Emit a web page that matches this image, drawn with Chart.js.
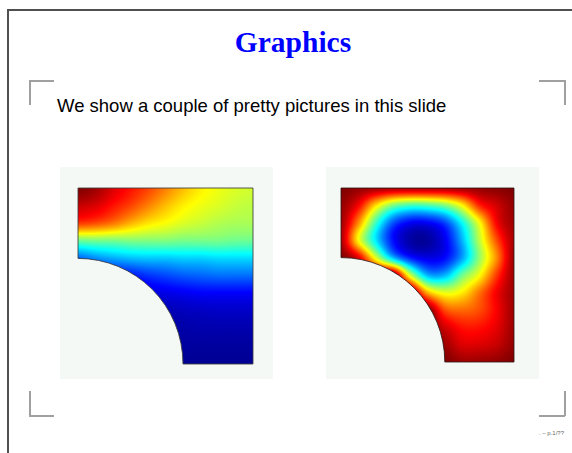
<!DOCTYPE html>
<html>
<head>
<meta charset="utf-8">
<script src="https://cdn.jsdelivr.net/npm/chart.js@4.4.1/dist/chart.umd.min.js"></script>
<style>
  html, body { margin: 0; padding: 0; background: #ffffff; }
  #slide { position: relative; width: 572px; height: 453px; overflow: hidden; background: #ffffff; }
  .edge { position: absolute; background: #505050; }
  .mark { position: absolute; background: #a0a0a0; }
  #title { position: absolute; left: 143px; top: 28px; width: 300px; text-align: center;
           font: bold 29.5px "Liberation Serif", "Times New Roman", serif; line-height: 29.5px; color: #0000ff; white-space: nowrap; }
  #lead { position: absolute; left: 57px; top: 97px; font: 18.5px "Liberation Sans", Arial, sans-serif;
          line-height: 18.5px; color: #000000; white-space: nowrap; }
  #foot { position: absolute; left: 539px; top: 430px; font: 6px "Liberation Sans", Arial, sans-serif;
          line-height: 6px; color: #666666; white-space: nowrap; }
  .panel { position: absolute; background: #f5f9f5; }
</style>
</head>
<body>
<div id="slide">
  <div class="edge" style="left:7px; top:9px; width:565px; height:2px;"></div>
  <div class="edge" style="left:7px; top:9px; width:2px; height:444px;"></div>

  <div class="mark" style="left:29px; top:80px; width:25px; height:1.5px;"></div>
  <div class="mark" style="left:29px; top:80px; width:1.5px; height:25px;"></div>
  <div class="mark" style="left:539px; top:80px; width:26px; height:1.5px;"></div>
  <div class="mark" style="left:564px; top:80px; width:1.5px; height:25px;"></div>
  <div class="mark" style="left:29px; top:391px; width:1.5px; height:25px;"></div>
  <div class="mark" style="left:29px; top:415px; width:25px; height:1.5px;"></div>
  <div class="mark" style="left:564px; top:391px; width:1.5px; height:25px;"></div>
  <div class="mark" style="left:539px; top:415px; width:26px; height:1.5px;"></div>

  <div id="title">Graphics</div>
  <div id="lead">We show a couple of pretty pictures in this slide</div>
  <div id="foot">. – p.1/??</div>

  <canvas id="leftField" class="panel" width="213" height="212" style="left:60px; top:167px;"></canvas>
  <canvas id="rightField" class="panel" width="213" height="212" style="left:326px; top:167px;"></canvas>
</div>

<script>
// Grid node positions of the sampled fields (x left to right, y rows from top to bottom)
const X_NODES = [0.0, 0.1, 0.2, 0.3, 0.4, 0.5, 0.6, 0.7, 0.8, 0.9, 1.0];
const Y_NODES = [1.0, 0.9, 0.8, 0.7, 0.6, 0.5, 0.4, 0.3, 0.2, 0.1, 0.0];

// Radius of the quarter-circle cut out of the unit square at the origin
const HOLE_RADIUS = 0.6;

// First solution: normalised values on the grid (0 = lowest, 1 = highest)
const LEFT_FIELD = [
  [1.00, 0.97, 0.91, 0.86, 0.81, 0.75, 0.69, 0.64, 0.61, 0.59, 0.58],
  [0.93, 0.91, 0.86, 0.81, 0.75, 0.69, 0.64, 0.61, 0.59, 0.57, 0.56],
  [0.82, 0.80, 0.76, 0.70, 0.65, 0.62, 0.59, 0.57, 0.55, 0.54, 0.54],
  [0.48, 0.49, 0.49, 0.50, 0.50, 0.50, 0.49, 0.49, 0.49, 0.48, 0.48],
  [0.22, 0.26, 0.29, 0.31, 0.32, 0.32, 0.33, 0.33, 0.34, 0.34, 0.34],
  [0.10, 0.11, 0.12, 0.14, 0.17, 0.19, 0.21, 0.22, 0.23, 0.23, 0.23],
  [0.06, 0.06, 0.07, 0.08, 0.09, 0.10, 0.11, 0.12, 0.12, 0.12, 0.12],
  [0.04, 0.04, 0.04, 0.04, 0.05, 0.05, 0.06, 0.065, 0.07, 0.07, 0.07],
  [0.03, 0.03, 0.03, 0.03, 0.03, 0.035, 0.04, 0.045, 0.045, 0.045, 0.045],
  [0.02, 0.02, 0.02, 0.02, 0.02, 0.025, 0.03, 0.03, 0.03, 0.03, 0.03],
  [0.02, 0.02, 0.02, 0.02, 0.02, 0.02, 0.02, 0.02, 0.02, 0.02, 0.02]
];

// Second solution: high on the boundary, a single low well inside
const RIGHT_FIELD = [
  [1.00, 0.98, 0.97, 0.96, 0.96, 0.96, 0.96, 0.97, 0.98, 0.99, 1.00],
  [0.98, 0.88, 0.66, 0.50, 0.44, 0.45, 0.50, 0.63, 0.84, 0.92, 0.98],
  [0.97, 0.74, 0.44, 0.21, 0.12, 0.12, 0.19, 0.38, 0.62, 0.88, 0.97],
  [0.96, 0.63, 0.36, 0.14, 0.04, 0.03, 0.11, 0.30, 0.56, 0.80, 0.96],
  [1.00, 0.90, 0.60, 0.31, 0.15, 0.10, 0.13, 0.28, 0.52, 0.74, 0.97],
  [1.00, 1.00, 1.00, 1.00, 0.58, 0.30, 0.30, 0.48, 0.62, 0.82, 0.97],
  [1.00, 1.00, 1.00, 1.00, 1.00, 0.70, 0.60, 0.64, 0.76, 0.885, 0.97],
  [1.00, 1.00, 1.00, 1.00, 1.00, 1.00, 0.80, 0.77, 0.80, 0.88, 0.97],
  [1.00, 1.00, 1.00, 1.00, 1.00, 1.00, 0.92, 0.86, 0.86, 0.90, 0.97],
  [1.00, 1.00, 1.00, 1.00, 1.00, 1.00, 0.97, 0.91, 0.91, 0.93, 0.98],
  [1.00, 1.00, 1.00, 1.00, 1.00, 1.00, 1.00, 0.97, 0.97, 0.98, 1.00]
];

// Classic "jet" colour map
function jet(v) {
  const c = t => Math.max(0, Math.min(1, t));
  return [
    Math.round(255 * c(1.5 - Math.abs(4 * v - 3))),
    Math.round(255 * c(1.5 - Math.abs(4 * v - 2))),
    Math.round(255 * c(1.5 - Math.abs(4 * v - 1)))
  ];
}

// Catmull-Rom weights for a fractional offset t in [0, 1)
function cubicWeights(t) {
  const t2 = t * t, t3 = t2 * t;
  return [
    0.5 * (-t3 + 2 * t2 - t),
    0.5 * (3 * t3 - 5 * t2 + 2),
    0.5 * (-3 * t3 + 4 * t2 + t),
    0.5 * (t3 - t2)
  ];
}

// Smooth (bicubic) lookup of a grid value at data coordinates (x, y)
function sampleGrid(grid, x, y) {
  const nc = X_NODES.length, nr = Y_NODES.length;
  const xs = Math.max(0, Math.min(1, x)), ys = Math.max(0, Math.min(1, y));
  const fc = (xs - X_NODES[0]) / (X_NODES[nc - 1] - X_NODES[0]) * (nc - 1);
  const fr = (Y_NODES[0] - ys) / (Y_NODES[0] - Y_NODES[nr - 1]) * (nr - 1);
  const c0 = Math.min(Math.floor(fc), nc - 2), r0 = Math.min(Math.floor(fr), nr - 2);
  const wx = cubicWeights(fc - c0), wy = cubicWeights(fr - r0);
  let sum = 0;
  for (let m = 0; m < 4; m++) {
    const r = Math.max(0, Math.min(nr - 1, r0 - 1 + m));
    let row = 0;
    for (let n = 0; n < 4; n++) {
      const c = Math.max(0, Math.min(nc - 1, c0 - 1 + n));
      row += wx[n] * grid[r][c];
    }
    sum += wy[m] * row;
  }
  return sum;
}

// Paints the field over the chart area through the chart's x/y scales,
// clipped to the square with the quarter-circle removed, then outlines it.
const fieldMapPlugin = {
  id: 'fieldMap',
  beforeDatasetsDraw(chart, args, opts) {
    const { ctx, chartArea: area, scales: { x: sx, y: sy } } = chart;
    const grid = opts.grid;
    const w = Math.round(area.right - area.left), h = Math.round(area.bottom - area.top);
    const off = document.createElement('canvas');
    off.width = w; off.height = h;
    const octx = off.getContext('2d');
    const img = octx.createImageData(w, h);
    for (let j = 0; j < h; j++) {
      const yv = sy.getValueForPixel(area.top + j + 0.5);
      for (let i = 0; i < w; i++) {
        const xv = sx.getValueForPixel(area.left + i + 0.5);
        const [r, g, b] = jet(Math.max(0, Math.min(1, sampleGrid(grid, xv, yv))));
        const k = (j * w + i) * 4;
        img.data[k] = r; img.data[k + 1] = g; img.data[k + 2] = b; img.data[k + 3] = 255;
      }
    }
    octx.putImageData(img, 0, 0);

    const x0 = sx.getPixelForValue(0), x1 = sx.getPixelForValue(1);
    const y0 = sy.getPixelForValue(0), y1 = sy.getPixelForValue(1);
    const rx = sx.getPixelForValue(opts.hole) - x0;
    const ry = y0 - sy.getPixelForValue(opts.hole);
    const outline = new Path2D();
    outline.moveTo(x0 + rx, y0);
    outline.lineTo(x1, y0);
    outline.lineTo(x1, y1);
    outline.lineTo(x0, y1);
    outline.lineTo(x0, y0 - ry);
    outline.ellipse(x0, y0, rx, ry, 0, -Math.PI / 2, 0, false);
    outline.closePath();

    ctx.save();
    ctx.clip(outline);
    ctx.drawImage(off, area.left, area.top);
    ctx.restore();

    ctx.save();
    ctx.lineWidth = 1;
    ctx.strokeStyle = opts.edge;
    ctx.stroke(outline);
    ctx.restore();
  }
};

function gridPoints(grid) {
  const pts = [];
  Y_NODES.forEach((y, r) => X_NODES.forEach((x, c) => pts.push({ x, y, v: grid[r][c] })));
  return pts;
}

function drawField(id, grid, padding, edge) {
  return new Chart(document.getElementById(id), {
    type: 'scatter',
    data: { datasets: [{ data: gridPoints(grid), pointRadius: 0, pointHoverRadius: 0 }] },
    options: {
      responsive: false,
      animation: false,
      devicePixelRatio: 1,
      events: [],
      layout: { padding },
      scales: {
        x: { type: 'linear', min: 0, max: 1, display: false },
        y: { type: 'linear', min: 0, max: 1, display: false }
      },
      plugins: {
        legend: { display: false },
        tooltip: { enabled: false },
        fieldMap: { grid, hole: HOLE_RADIUS, edge }
      }
    },
    plugins: [fieldMapPlugin]
  });
}

drawField('leftField', LEFT_FIELD, { left: 18, right: 20, top: 21, bottom: 15 }, 'rgba(60,60,60,0.85)');
drawField('rightField', RIGHT_FIELD, { left: 15, right: 25, top: 21, bottom: 17 }, 'rgba(40,20,20,0.8)');
</script>
</body>
</html>
